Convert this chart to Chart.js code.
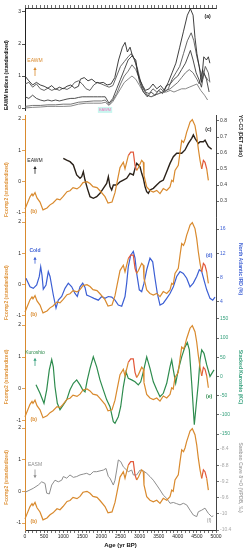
<!DOCTYPE html>
<html><head><meta charset="utf-8">
<script src="https://cdn.jsdelivr.net/npm/chart.js@4/dist/chart.umd.min.js"></script>
<style>
html,body{margin:0;padding:0;background:#fff;}
#wrap{position:relative;width:247px;height:550px;overflow:hidden;}
#wrap canvas{position:absolute;left:0;top:0;}
</style></head>
<body><div id="wrap">
<canvas id="pa" width="247" height="550"></canvas>
<canvas id="pc" width="247" height="550"></canvas>
<canvas id="pd" width="247" height="550"></canvas>
<canvas id="pe" width="247" height="550"></canvas>
<canvas id="pf" width="247" height="550"></canvas>
</div>
<script>
// ---------------- DATA ----------------
const ageRange = [0, 5000];
const ageLabelYears = [0, 500, 1000, 1500, 2000, 2500, 3000, 3500, 4000, 4500, 5000];
const eawmTicks = [0, 1, 2, 3];
const fcompTicks = [-1, 0, 1, 2];
const detTicks = [0.3, 0.4, 0.5, 0.6, 0.7, 0.8];
const irdTicks = [4, 8, 12, 16];
const kcTicks = [-150, -100, -50, 0, 50, 100, 150];
const d18oTicks = [-10.4, -10, -9.6, -9.2, -8.8, -8.4];

// (a) EAWM indices, five records [age, value]
const eawm1 = [[0,1.0],[100,0.85],[200,0.72],[300,0.8],[400,0.72],[500,0.68],[600,0.62],[700,0.7],[800,0.58],[900,0.65],[1000,0.6],[1100,0.68],[1200,0.72],[1300,0.62],[1400,0.68],[1450,0.9],[1550,0.95],[1650,0.85],[1750,0.9],[1850,0.8],[1950,0.78],[2050,0.8],[2150,0.72],[2250,0.75],[2350,0.95],[2450,1.5],[2550,1.9],[2620,2.05],[2680,1.75],[2750,1.9],[2820,1.6],[2900,1.5],[2950,1.1],[3000,0.9],[3080,0.7],[3150,0.55],[3250,0.6],[3350,0.75],[3450,0.6],[3550,0.7],[3650,0.55],[3750,0.8],[3850,1.1],[3950,1.4],[4050,1.9],[4150,2.4],[4250,2.9],[4330,3.1],[4400,2.9],[4450,2.2],[4500,1.7],[4560,1.3],[4620,0.8],[4680,1.6],[4750,1.5],[4800,1.6],[4840,1.4]];
const eawm2 = [[0,0.75],[100,0.8],[200,0.65],[300,0.75],[400,0.6],[500,0.55],[600,0.62],[700,0.55],[800,0.6],[900,0.55],[1000,0.62],[1100,0.58],[1200,0.65],[1300,0.8],[1400,0.85],[1500,0.75],[1600,0.6],[1700,0.55],[1800,0.72],[1900,0.8],[2000,0.75],[2100,0.7],[2200,0.65],[2300,0.7],[2400,1.0],[2500,1.3],[2600,1.45],[2700,1.6],[2780,1.7],[2850,1.55],[2950,1.2],[3050,0.7],[3150,0.5],[3250,0.45],[3350,0.6],[3450,0.5],[3550,0.6],[3650,0.5],[3750,0.6],[3850,0.9],[3950,1.1],[4050,1.3],[4150,1.7],[4250,2.1],[4350,2.35],[4420,2.1],[4500,1.6],[4580,1.2],[4650,0.9],[4720,1.3],[4800,1.1],[4840,0.8]];
const eawm3 = [[0,0.35],[100,0.3],[200,0.4],[300,0.3],[400,0.25],[500,0.22],[600,0.25],[700,0.22],[800,0.25],[900,0.22],[1000,0.25],[1100,0.28],[1200,0.3],[1300,0.3],[1400,0.33],[1500,0.35],[1600,0.35],[1700,0.35],[1800,0.35],[1900,0.35],[2000,0.35],[2100,0.35],[2200,0.15],[2300,0.3],[2400,0.6],[2500,0.9],[2600,1.2],[2700,1.5],[2820,1.65],[2900,1.4],[3000,0.8],[3100,0.5],[3200,0.35],[3300,0.5],[3400,0.4],[3500,0.55],[3600,0.45],[3700,0.7],[3800,0.75],[3900,0.9],[4000,1.0],[4100,1.2],[4200,1.4],[4330,1.8],[4400,1.5],[4480,1.1],[4550,0.9],[4620,0.65],[4680,1.1],[4750,0.9],[4820,0.5]];
const eawm4 = [[0,0.05],[200,0.08],[400,0.08],[600,0.1],[800,0.1],[1000,0.12],[1200,0.12],[1400,0.18],[1600,0.2],[1800,0.22],[2000,0.22],[2100,0.25],[2200,0.1],[2300,0.25],[2400,0.45],[2500,0.75],[2600,1.0],[2700,1.15],[2800,1.35],[2900,1.2],[3000,0.9],[3100,0.6],[3200,0.4],[3300,0.35],[3400,0.4],[3500,0.45],[3600,0.5],[3700,0.55],[3800,0.6],[3900,0.7],[4000,0.8],[4100,0.95],[4200,1.1],[4300,1.2],[4400,1.1],[4500,0.9],[4560,0.75],[4650,1.2],[4720,1.0],[4800,0.85]];
const eawm5 = [[0,0.0],[200,0.02],[400,0.03],[600,0.05],[800,0.05],[1000,0.05],[1200,0.06],[1400,0.12],[1600,0.15],[1800,0.15],[2000,0.15],[2100,0.18],[2200,0.08],[2300,0.2],[2400,0.4],[2500,0.6],[2600,0.8],[2700,0.9],[2800,1.0],[2900,0.9],[3000,0.7],[3100,0.5],[3200,0.4],[3300,0.35],[3400,0.4],[3500,0.45],[3600,0.5],[3700,0.5],[3800,0.55],[3900,0.5],[4000,0.55],[4100,0.6],[4200,0.6],[4300,0.65],[4400,0.7],[4500,0.75],[4600,0.55],[4700,0.4],[4780,0.25]];

// (b) Fcomp2 (standardized)
const fcomp2 = [[0,-0.87],[131,-0.48],[183,-0.39],[209,-0.45],[262,-0.35],[314,-0.52],[393,-0.65],[471,-0.9],[576,-0.84],[655,-0.74],[733,-0.68],[838,-0.55],[916,-0.58],[995,-0.48],[1100,-0.32],[1178,-0.29],[1257,-0.19],[1361,-0.23],[1440,-0.16],[1518,-0.03],[1623,0],[1702,-0.06],[1780,-0.16],[1885,-0.19],[1963,-0.29],[2094,-0.48],[2173,-0.68],[2278,-0.65],[2356,-0.35],[2408,-0.03],[2487,0.45],[2574,0.62],[2618,0.41],[2704,0.83],[2767,0.94],[2835,0.94],[2880,0.52],[2924,0.36],[2970,0.45],[3055,0.68],[3097,0.62],[3115,0.2],[3186,-0.17],[3272,-0.28],[3359,-0.33],[3448,-0.28],[3534,-0.38],[3620,-0.22],[3710,-0.28],[3796,-0.17],[3840,0.04],[3880,0.0],[3927,0.36],[4013,0.52],[4058,0.94],[4102,1.31],[4150,1.25],[4189,1.37],[4233,1.58],[4280,1.75],[4320,1.9],[4380,1.98],[4450,1.79],[4495,1.47],[4537,1.05],[4582,0.68],[4626,0.41],[4670,0.68],[4712,0.62],[4757,0.41],[4800,0.04]];
const fcompRedSpans = [[2680, 2950], [4600, 4760]];

// (c) YC-C3 DET ratio
const ycc3 = [[1003,0.567],[1091,0.556],[1178,0.546],[1265,0.525],[1353,0.463],[1440,0.442],[1484,0.452],[1527,0.483],[1571,0.431],[1632,0.379],[1702,0.327],[1789,0.317],[1877,0.327],[1963,0.348],[2051,0.379],[2138,0.41],[2182,0.452],[2225,0.39],[2269,0.369],[2313,0.4],[2400,0.4],[2487,0.42],[2574,0.431],[2662,0.442],[2749,0.473],[2836,0.463],[2880,0.504],[2924,0.535],[2967,0.525],[3011,0.514],[3055,0.473],[3098,0.442],[3142,0.39],[3185,0.358],[3229,0.348],[3273,0.369],[3360,0.379],[3447,0.4],[3534,0.42],[3622,0.431],[3709,0.483],[3796,0.535],[3883,0.577],[3971,0.598],[4102,0.598],[4189,0.619],[4276,0.66],[4364,0.692],[4407,0.713],[4451,0.692],[4538,0.66],[4582,0.67],[4669,0.67],[4713,0.68],[4800,0.64],[4887,0.623]];

// (d) North Atlantic IRD (%)
const ird = [[26,7.9],[131,6.5],[217,6.25],[306,6.8],[374,8.2],[411,9.8],[445,8.4],[479,6.1],[550,6.8],[610,9.0],[655,8.2],[741,5.15],[812,3.0],[872,4.3],[961,4.9],[1047,6.25],[1134,7.1],[1223,6.5],[1309,5.4],[1369,4.9],[1440,6.5],[1511,7.1],[1571,6.4],[1615,5.15],[1702,4.9],[1806,4.6],[1919,4.3],[2008,4.9],[2094,4.6],[2181,4.9],[2270,4.8],[2356,4.3],[2443,3.5],[2532,3.3],[2618,4.9],[2662,7.1],[2704,9.8],[2767,11.7],[2835,12.3],[2880,11.2],[2924,8.7],[2992,6.0],[3055,5.7],[3115,7.1],[3186,9.3],[3272,11.2],[3343,10.6],[3403,7.9],[3464,5.4],[3534,3.5],[3620,3.8],[3710,4.6],[3796,5.4],[3883,6.5],[3971,8.2],[4058,9.0],[4144,8.7],[4233,7.9],[4320,6.5],[4406,7.1],[4495,8.2],[4563,9.3],[4626,9.0],[4686,7.6],[4757,6.0],[4843,4.6],[4914,4.3],[4974,4.8]];

// (e) Stacked Kuroshio (KC)
const kuroshio = [[288,-22],[393,-44],[497,-70],[568,-35],[636,17],[699,44],[741,25],[785,-27],[846,-70],[916,-87],[1003,-74],[1092,-61],[1178,-35],[1265,-18],[1353,-9],[1440,-22],[1511,-35],[1571,-40],[1631,-9],[1702,21],[1788,51],[1877,25],[1963,-9],[2050,-35],[2139,-61],[2225,-79],[2312,-118],[2356,-122],[2443,-105],[2505,-79],[2574,-27],[2644,12],[2704,-5],[2793,-9],[2880,-14],[2966,-22],[3029,-14],[3097,12],[3186,51],[3272,21],[3359,-14],[3448,-35],[3534,-53],[3621,-44],[3710,-18],[3796,25],[3840,43],[3883,17],[3945,-18],[4013,17],[4102,51],[4189,77],[4250,88],[4302,69],[4364,-18],[4432,-126],[4477,-79],[4537,-18],[4582,43],[4626,69],[4686,60],[4757,30],[4843,0],[4948,17]];

// (f) Sanbao Cave d18O (VPDB, permil)
const sanbao = [[0,-9.47],[131,-9.41],[217,-9.37],[348,-9.29],[437,-9.21],[524,-9.25],[568,-9.49],[636,-9.51],[699,-9.29],[785,-9.17],[872,-9.21],[961,-9.17],[1003,-9.08],[1092,-9.12],[1178,-9.04],[1265,-9.1],[1353,-9.08],[1440,-9.04],[1526,-9.02],[1615,-9.0],[1702,-9.04],[1788,-8.96],[1877,-8.96],[2050,-8.92],[2121,-8.88],[2181,-9.08],[2225,-9.12],[2312,-9.29],[2356,-9.17],[2401,-8.92],[2443,-8.67],[2505,-8.71],[2574,-8.84],[2704,-8.96],[2793,-8.92],[2836,-9.04],[2924,-9.04],[3011,-8.92],[3098,-8.94],[3186,-9.0],[3272,-9.08],[3359,-9.17],[3448,-9.29],[3534,-9.41],[3621,-9.54],[3710,-9.62],[3796,-9.74],[3883,-9.72],[3971,-9.75],[4058,-9.78],[4144,-9.74],[4233,-9.78],[4320,-9.91],[4406,-10.03],[4495,-10.07],[4537,-9.95],[4626,-9.91],[4712,-9.86],[4800,-9.99],[4887,-10.07],[4930,-10.05]];

// ---------------- STYLE ----------------
const FONT = "'Liberation Sans', Arial, Helvetica, sans-serif";
Chart.defaults.font.family = FONT;
Chart.defaults.font.size = 5;
Chart.defaults.color = '#222';
const C = {
  orange: '#d98a2e', red: '#e2583a', orangeText: '#e0963f',
  black: '#2a2119', blue: '#3c5fd4', green: '#2e8c4e', greenText: '#35a07c',
  gray: '#8d8d8d', grayText: '#a8a8a8', axis: '#444'
};

const notesPlugin = {
  id: 'notes',
  afterDatasetsDraw(chart, args, opts) {
    const ctx = chart.ctx, xs = chart.scales.x, ys = chart.scales.yL;
    (opts.items || []).forEach(n => {
      const px = xs.getPixelForValue(n.x);
      ctx.save();
      ctx.fillStyle = n.color; ctx.strokeStyle = n.color;
      if (n.arrow) {
        const p1 = ys.getPixelForValue(n.from), p2 = ys.getPixelForValue(n.to);
        const dir = p2 < p1 ? 1 : -1;
        ctx.lineWidth = 0.8;
        ctx.beginPath(); ctx.moveTo(px, p1); ctx.lineTo(px, p2 + dir * 2); ctx.stroke();
        ctx.beginPath(); ctx.moveTo(px, p2); ctx.lineTo(px - 1.6, p2 + dir * 3); ctx.lineTo(px + 1.6, p2 + dir * 3); ctx.closePath(); ctx.fill();
      } else {
        const py = ys.getPixelForValue(n.y);
        ctx.font = (n.bold ? 'bold ' : '') + (n.size || 5) + 'px ' + FONT;
        ctx.textAlign = 'center'; ctx.textBaseline = 'middle';
        if (n.bg) {
          const w = ctx.measureText(n.text).width + 2;
          ctx.fillStyle = n.bg; ctx.fillRect(px - w / 2, py - 3, w, 6);
          ctx.fillStyle = n.color;
        }
        ctx.fillText(n.text, px, py);
      }
      ctx.restore();
    });
  }
};

function series(data, color, width, axis, extra) {
  return Object.assign({
    data: data.map(([x, y]) => ({ x, y })), borderColor: color, borderWidth: width,
    pointRadius: 0, fill: false, tension: 0, clip: false, yAxisID: axis
  }, extra || {});
}
function fmt(v) { return String(Math.round(v * 10) / 10); }
function yAxis(pos, min, max, ticks, labelColor, lineColor, title, titleColor, align) {
  return {
    type: 'linear', position: pos, min, max,
    afterFit: s => { s.width = pos === 'left' ? 25 : 31; },
    afterBuildTicks: s => { s.ticks = ticks.map(v => ({ value: v })); },
    grid: { drawOnChartArea: false, tickLength: 3, color: lineColor, lineWidth: 0.8 },
    border: { display: true, color: lineColor, width: 1 },
    ticks: { color: labelColor, padding: 1, font: { size: 5 }, callback: v => fmt(v) },
    title: { display: true, text: title, color: titleColor, align: align || 'center',
             font: { size: 5, weight: 'bold' }, padding: { top: 4, bottom: 2 } }
  };
}
function hiddenX() { return { type: 'linear', min: ageRange[0], max: ageRange[1], display: false }; }
function baseOptions(padTop, padBottom, padRight, scales, notes) {
  return {
    responsive: false, animation: false, devicePixelRatio: 1,
    layout: { padding: { top: padTop, bottom: padBottom, left: 0, right: padRight } },
    plugins: { legend: { display: false }, tooltip: { enabled: false }, notes: { items: notes } },
    scales
  };
}
const fcompSeg = { segment: { borderColor: ctx => fcompRedSpans.some(([a, b]) => ctx.p0.parsed.x >= a && ctx.p1.parsed.x <= b) ? C.red : undefined } };
const fcompTitle = 'Fcomp2 (standardized)';

// (a)
new Chart(document.getElementById('pa'), {
  type: 'line', plugins: [notesPlugin],
  data: { datasets: [
    series(eawm1, '#2a2a2a', 0.9, 'yL'), series(eawm2, '#555', 0.9, 'yL'),
    series(eawm3, '#3a3a3a', 0.9, 'yL'), series(eawm4, '#666', 0.9, 'yL'),
    series(eawm5, '#7a7a7a', 0.9, 'yL')
  ]},
  options: baseOptions(5, 440, 31, {
    x: hiddenX(),
    xTop: { type: 'linear', position: 'top', min: ageRange[0], max: ageRange[1],
      afterFit: s => { s.height = 3; },
      ticks: { display: false, stepSize: 100, autoSkip: false },
      grid: { drawOnChartArea: false, tickLength: 3, color: '#333', lineWidth: 0.7 },
      border: { display: true, color: '#333' } },
    yL: yAxis('left', -0.0625, 3.125, eawmTicks, '#222', '#222', 'EAWM indices (standardized)', '#111', 'start')
  }, [
    { text: '(a)', x: 4780, y: 2.87, color: '#111', bold: true },
    { text: 'EAWM', x: 262, y: 1.47, color: C.orange, size: 5 },
    { arrow: true, x: 262, from: 1.0, to: 1.28, color: C.orange },
    { text: 'EAWM', x: 2095, y: -0.06, color: '#f07ac0', bg: '#c9f6ef', size: 4 }
  ])
});

// (c)
new Chart(document.getElementById('pc'), {
  type: 'line', plugins: [notesPlugin],
  data: { datasets: [
    series(fcomp2, C.orange, 1.2, 'yL', fcompSeg),
    series(ycc3, C.black, 1.4, 'yR')
  ]},
  options: baseOptions(115, 333, 0, {
    x: hiddenX(),
    yL: yAxis('left', -1.128, 2.128, fcompTicks, '#222', C.orange, fcompTitle, C.orangeText, 'start'),
    yR: yAxis('right', 0.2, 0.8375, detTicks, '#333', C.axis, 'YC-C3 (DET ratio)', '#222', 'end')
  }, [
    { text: '(c)', x: 4800, y: 1.66, color: '#222', bold: true },
    { text: 'EAWM', x: 262, y: 0.68, color: '#222' },
    { arrow: true, x: 262, from: 0.25, to: 0.5, color: '#222' },
    { text: '(b)', x: 230, y: -0.95, color: C.orange, bold: true }
  ])
});

// (d)
new Chart(document.getElementById('pd'), {
  type: 'line', plugins: [notesPlugin],
  data: { datasets: [
    series(fcomp2, C.orange, 1.2, 'yL', fcompSeg),
    series(ird, C.blue, 1.2, 'yR')
  ]},
  options: baseOptions(218, 230, 0, {
    x: hiddenX(),
    yL: yAxis('left', -1.128, 2.128, fcompTicks, '#222', C.orange, fcompTitle, C.orangeText, 'start'),
    yR: yAxis('right', 1.04, 17.81, irdTicks, C.blue, C.axis, 'North Atlantic IRD (%)', C.blue, 'center')
  }, [
    { text: '(d)', x: 4820, y: 0.94, color: C.blue, bold: true },
    { text: 'Cold', x: 262, y: 1.09, color: C.blue, bold: true },
    { arrow: true, x: 262, from: 0.67, to: 0.89, color: C.blue },
    { text: '(b)', x: 230, y: -0.95, color: C.orange, bold: true }
  ])
});

// (e)
new Chart(document.getElementById('pe'), {
  type: 'line', plugins: [notesPlugin],
  data: { datasets: [
    series(fcomp2, C.orange, 1.2, 'yL', fcompSeg),
    series(kuroshio, C.green, 1.2, 'yR')
  ]},
  options: baseOptions(318, 114, 0, {
    x: hiddenX(),
    yL: yAxis('left', -1.469, 2.219, fcompTicks, '#222', C.orange, fcompTitle, C.orangeText, 'center'),
    yR: yAxis('right', -155.2, 152.1, kcTicks, C.greenText, C.axis, 'Stacked Kuroshio (KC)', C.greenText, 'center')
  }, [
    { text: '(e)', x: 4820, y: -0.24, color: C.green, bold: true },
    { text: 'Kuroshio', x: 262, y: 1.14, color: C.green },
    { arrow: true, x: 262, from: 0.72, to: 0.98, color: C.greenText },
    { text: '(b)', x: 230, y: -0.95, color: C.orange, bold: true }
  ])
});

// (f)
new Chart(document.getElementById('pf'), {
  type: 'line', plugins: [notesPlugin],
  data: { datasets: [
    series(fcomp2, C.orange, 1.2, 'yL', fcompSeg),
    series(sanbao, C.gray, 1.0, 'yR')
  ]},
  options: baseOptions(425, 0, 0, {
    x: { type: 'linear', position: 'bottom', min: ageRange[0], max: ageRange[1],
      afterFit: s => { s.height = 20; },
      afterBuildTicks: s => { const t = []; for (let v = ageRange[0]; v <= ageRange[1]; v += 100) t.push({ value: v }); s.ticks = t; },
      ticks: { autoSkip: false, maxRotation: 0, padding: 1, color: '#222', font: { size: 5 },
               callback: v => ageLabelYears.includes(v) ? String(v) : '' },
      grid: { drawOnChartArea: false, tickLength: 3, color: '#333', lineWidth: 0.7 },
      border: { display: true, color: '#333' },
      title: { display: true, text: 'Age (yr BP)', color: '#111', font: { size: 6, weight: 'bold' }, padding: { top: 1, bottom: 1 } } },
    yL: yAxis('left', -1.221, 2.095, fcompTicks, '#222', C.orange, fcompTitle, C.orangeText, 'center'),
    yR: yAxis('right', -10.4, -7.807, d18oTicks, C.grayText, C.axis, 'Sanbao Cave \u03b4\u00b9\u2078O (VPDB, \u2030)', C.grayText, 'center')
  }, [
    { text: '(f)', x: 4820, y: -0.94, color: C.gray },
    { text: 'EASM', x: 262, y: 0.85, color: C.gray },
    { arrow: true, x: 262, from: 0.69, to: 0.41, color: C.gray },
    { text: '(b)', x: 230, y: -0.95, color: C.orange, bold: true }
  ])
});
</script>
</body></html>
